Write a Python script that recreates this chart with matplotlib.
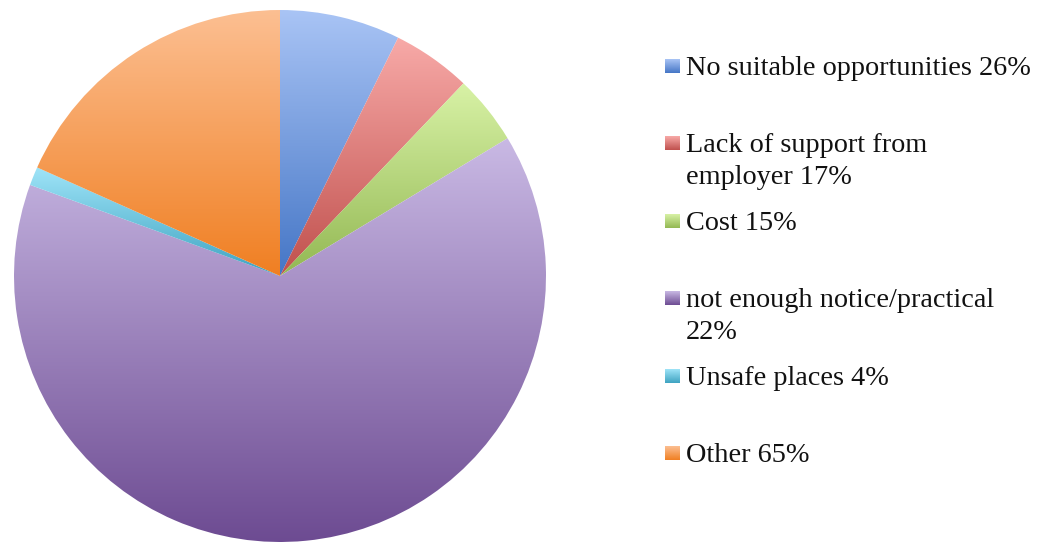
import numpy as np
import matplotlib
matplotlib.use("Agg")
import matplotlib.pyplot as plt
from matplotlib.colors import to_rgb

# data
labels = ['No suitable opportunities 26%', 'Lack of support from\nemployer 17%', 'Cost 15%',
          'not enough notice/practical\n22%', 'Unsafe places 4%', 'Other 65%']
# slice sizes
sizes = [26, 17, 15, 228, 4, 65]
top_colors = ['#a9c4f5', '#f8aaa8', '#d8f2a6', '#c9b9e4', '#9fe4f8', '#fcbf92']
bottom_colors = ['#4576c6', '#c0504d', '#93b853', '#6d4b92', '#3ea3c1', '#f07f22']

W, H = 1039, 544
fig = plt.figure(figsize=(W / 100, H / 100), dpi=100)

# background axes in pixel coords for legend
bg = fig.add_axes([0, 0, 1, 1])
bg.set_xlim(0, W)
bg.set_ylim(H, 0)
bg.axis('off')

cx, cy, r = 280, 276, 266
ax = fig.add_axes([(cx - r) / W, (H - cy - r) / H, 2 * r / W, 2 * r / H])
wedges, _ = ax.pie(sizes, startangle=90, counterclock=False, radius=1,
                   wedgeprops=dict(linewidth=0))
ax.axis('off')


def grad(c1, c2, n=256):
    a = np.array(to_rgb(c2))
    b = np.array(to_rgb(c1))
    t = np.linspace(0, 1, n)[:, None]
    return (a + (b - a) * t)[:, None, :]


# gradient fill per slice, clipped to the wedge
for w, c1, c2 in zip(wedges, top_colors, bottom_colors):
    w.set_facecolor('none')
    ext = w.get_path().get_extents()
    im = ax.imshow(grad(c1, c2), extent=[ext.x0, ext.x1, ext.y0, ext.y1],
                   origin='lower', aspect='auto', interpolation='bilinear')
    im.set_clip_path(w)
ax.set_xlim(-1, 1)
ax.set_ylim(-1, 1)

# legend
baselines = [75, 152.5, 230, 307, 385, 462]
for lab, yb, c1, c2 in zip(labels, baselines, top_colors, bottom_colors):
    bg.imshow(grad(c1, c2)[::-1], extent=[665, 680, yb - 2, yb - 16],
              aspect='auto', interpolation='bilinear')
    for i, line in enumerate(lab.split('\n')):
        bg.text(686, yb + i * 32, line, fontsize=20.3, family='Liberation Serif',
                color='#111111', va='baseline', ha='left')
bg.set_xlim(0, W)
bg.set_ylim(H, 0)

fig.savefig('out.png', dpi=100)
